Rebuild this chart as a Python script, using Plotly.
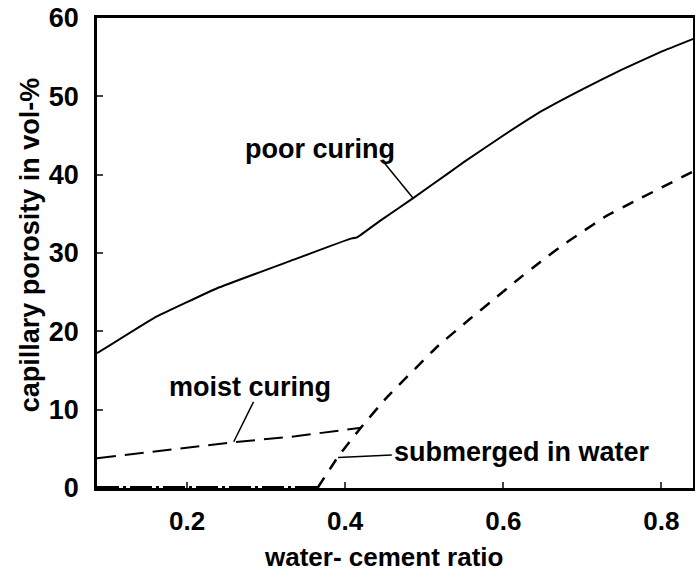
import plotly.graph_objects as go

# poor curing (solid)
poor_x = [0.086, 0.158, 0.238, 0.331, 0.406, 0.415, 0.444, 0.486, 0.532, 0.55, 0.60, 0.65, 0.70, 0.75, 0.80, 0.842]
poor_y = [17.2, 21.7, 25.5, 29.0, 31.8, 32.0, 34.1, 37.0, 40.3, 41.6, 45.0, 48.2, 50.9, 53.4, 55.7, 57.4]

# moist curing (long dashes)
moist_x = [0.086, 0.169, 0.255, 0.337, 0.42]
moist_y = [3.8, 4.8, 5.8, 6.6, 7.7]

# submerged in water: flat at zero, then dashed rise
sub_flat_x = [0.086, 0.365]
sub_flat_y = [0, 0]
sub_x = [0.365, 0.391, 0.419, 0.453, 0.516, 0.558, 0.587, 0.617, 0.646, 0.675, 0.697, 0.73, 0.768, 0.842]
sub_y = [0, 4.0, 7.6, 11.6, 18.0, 21.6, 24.0, 26.5, 28.8, 31.0, 32.5, 34.7, 36.7, 40.5]

# labels: text, text pos, leader start, leader end
labels = ["poor curing", "moist curing", "submerged in water"]
label_pos = [(0.368, 43.3, "center"), (0.279, 12.9, "center"), (0.459, 4.6, "left")]
leaders = [((0.447, 41.8), (0.486, 37.0)),
           ((0.284, 11.0), (0.259, 5.9)),
           ((0.391, 3.9), (0.459, 4.2))]

FONT = "Liberation Sans, Arial, sans-serif"

fig = go.Figure()
fig.add_trace(go.Scatter(x=poor_x, y=poor_y, mode="lines",
                         line=dict(color="black", width=2, shape="spline", smoothing=0.3)))
fig.add_trace(go.Scatter(x=moist_x, y=moist_y, mode="lines",
                         line=dict(color="black", width=2, dash="19px,9px")))
fig.add_trace(go.Scatter(x=sub_flat_x, y=sub_flat_y, mode="lines", cliponaxis=False,
                         line=dict(color="black", width=4, dash="22px,4px,3px,4px")))
fig.add_trace(go.Scatter(x=sub_x, y=sub_y, mode="lines",
                         line=dict(color="black", width=2.5, dash="12px,10px",
                                   shape="spline", smoothing=0.3)))

for (x0, y0), (x1, y1) in leaders:
    fig.add_shape(type="line", x0=x0, y0=y0, x1=x1, y1=y1,
                  line=dict(color="black", width=1.5))

for txt, (x, y, anchor) in zip(labels, label_pos):
    fig.add_annotation(x=x, y=y, text="<b>%s</b>" % txt, showarrow=False,
                       xanchor=anchor, yanchor="middle",
                       font=dict(family=FONT, size=27, color="black"))

# axis titles
fig.add_annotation(x=0.48, y=-0.147, xref="paper", yref="paper",
                   text="<b>water- cement ratio</b>", showarrow=False,
                   xanchor="center", yanchor="middle",
                   font=dict(family=FONT, size=26, color="black"))
fig.add_annotation(x=-0.112, y=0.517, xref="paper", yref="paper",
                   text="<b>capillary porosity in vol-%</b>", showarrow=False,
                   textangle=-90, xanchor="center", yanchor="middle",
                   font=dict(family=FONT, size=27, color="black"))

fig.update_layout(
    width=695, height=573,
    margin=dict(l=97, r=2, t=18, b=85),
    paper_bgcolor="white", plot_bgcolor="white",
    showlegend=False,
    font=dict(family=FONT, size=24, color="black"),
)

fig.update_xaxes(range=[0.086, 0.84], tickvals=[0.2, 0.4, 0.6, 0.8],
                 ticktext=["<b>0.2</b>", "<b>0.4</b>", "<b>0.6</b>", "<b>0.8</b>"],
                 showline=True, linecolor="black", linewidth=2.5, mirror=True,
                 ticks="inside", ticklen=6, tickwidth=2, showgrid=False, zeroline=False,
                 tickfont=dict(size=26), ticklabelstandoff=8, automargin=False)
fig.update_yaxes(range=[0, 60], tickvals=[0, 10, 20, 30, 40, 50, 60],
                 ticktext=["<b>%d</b>" % v for v in [0, 10, 20, 30, 40, 50, 60]],
                 showline=True, linecolor="black", linewidth=2.5, mirror=True,
                 ticks="inside", ticklen=6, tickwidth=2, showgrid=False, zeroline=False,
                 tickfont=dict(size=27), ticklabelstandoff=10, automargin=False)

# drop the default body margin so the figure fills the window exactly
fig.write_html("out.html", config={"displayModeBar": False},
               post_script="document.body.style.margin='0';document.body.style.overflow='hidden';")
